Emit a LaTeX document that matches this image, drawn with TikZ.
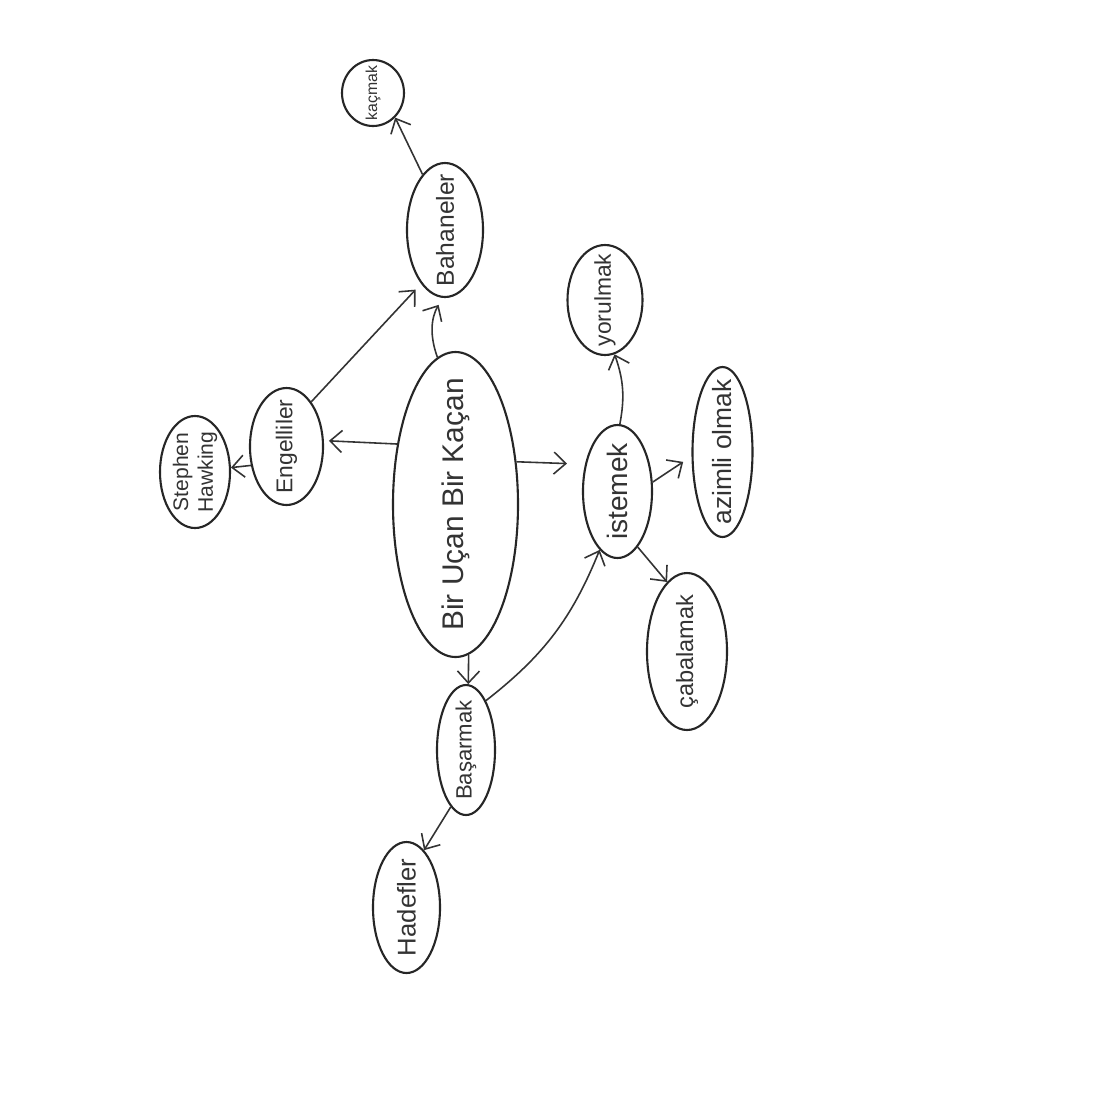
\documentclass[tikz,border=0pt]{standalone}
\usepackage{fontspec}
\setmainfont{Liberation Sans}
\usetikzlibrary{arrows.meta,shapes.geometric}

\begin{document}
\begin{tikzpicture}[>={Straight Barb[length=1.2mm,width=2.2mm]},
  bubble/.style={draw=black!85, ellipse, line width=.6pt, inner sep=0pt},
  txt/.style={rotate=90, font=\fontsize{7}{8}\selectfont, text=black!80},
  link/.style={->, line width=.45pt, draw=black!80}]
  % sheet of paper, fixes the margins
  \fill[white] (0,0) rectangle (11.08,-11.02);
  % main idea in the middle
  \node[bubble, minimum width=12.5mm, minimum height=30.5mm,
    label={[txt, font=\fontsize{8.5}{10}\selectfont]center:Bir Uçan Bir Kaçan}] (cen) at (4.555,-5.045) {};
  % left branch
  \node[bubble, minimum width=7.3mm, minimum height=11.7mm,
    label={[txt, font=\fontsize{6.5}{8}\selectfont]center:Engelliler}] (eng) at (2.865,-4.465) {};
  \node[bubble, minimum width=7mm, minimum height=11.2mm,
    label={[txt, align=center, font=\fontsize{6}{7}\selectfont]center:Stephen\\Hawking}] (haw) at (1.95,-4.72) {};
  \node[bubble, minimum width=7.6mm, minimum height=13.4mm,
    label={[txt]center:Bahaneler}] (bah) at (4.45,-2.30) {};
  \node[bubble, minimum width=6.2mm, minimum height=6.6mm,
    label={[txt, font=\fontsize{4.5}{5.5}\selectfont]center:kaçmak}] (kac) at (3.73,-0.93) {};
  % right branch
  \node[bubble, minimum width=6.9mm, minimum height=13.3mm,
    label={[txt, font=\fontsize{8}{10}\selectfont]center:istemek}] (ist) at (6.175,-4.915) {};
  \node[bubble, minimum width=7.5mm, minimum height=11mm,
    label={[txt, font=\fontsize{6.5}{8}\selectfont]center:yorulmak}] (yor) at (6.05,-3.0) {};
  \node[bubble, minimum width=6mm, minimum height=17mm,
    label={[txt, font=\fontsize{7.5}{9}\selectfont]center:azimli olmak}] (azi) at (7.225,-4.52) {};
  \node[bubble, minimum width=8mm, minimum height=15.7mm,
    label={[txt, font=\fontsize{6.7}{8}\selectfont]center:çabalamak}] (cab) at (6.87,-6.515) {};
  % bottom branch
  \node[bubble, minimum width=5.8mm, minimum height=13mm,
    label={[txt, font=\fontsize{6.3}{8}\selectfont]center:Başarmak}] (bas) at (4.66,-7.50) {};
  \node[bubble, minimum width=6.7mm, minimum height=13.1mm,
    label={[txt, font=\fontsize{7.3}{9}\selectfont]center:Hadefler}] (had) at (4.065,-9.075) {};
  % connectors
  \draw[link, shorten >=.5mm] (cen.134) -- (eng.9);
  \draw[link] (eng.208) -- (haw.7);
  \draw[link, shorten >=.8mm] (eng.61) -- (bah.246);
  \draw[link, shorten >=.8mm] (cen.97) to[bend left=25] (bah.268);
  \draw[link] (bah.112) -- (kac.312);
  \draw[link, shorten >=1.8mm] (cen.35) -- (ist.140);
  \draw[link] (ist.88) to[bend right=15] (yor.280);
  \draw[link, shorten >=1mm] (ist.15) -- (azi.188);
  \draw[link] (ist.290) -- (cab.106);
  \draw[link] (cen.275) -- (bas.88);
  \draw[link] (bas.68) to[bend right=15] (ist.253);
  \draw[link] (bas.255) -- (had.73);
\end{tikzpicture}
\end{document}
